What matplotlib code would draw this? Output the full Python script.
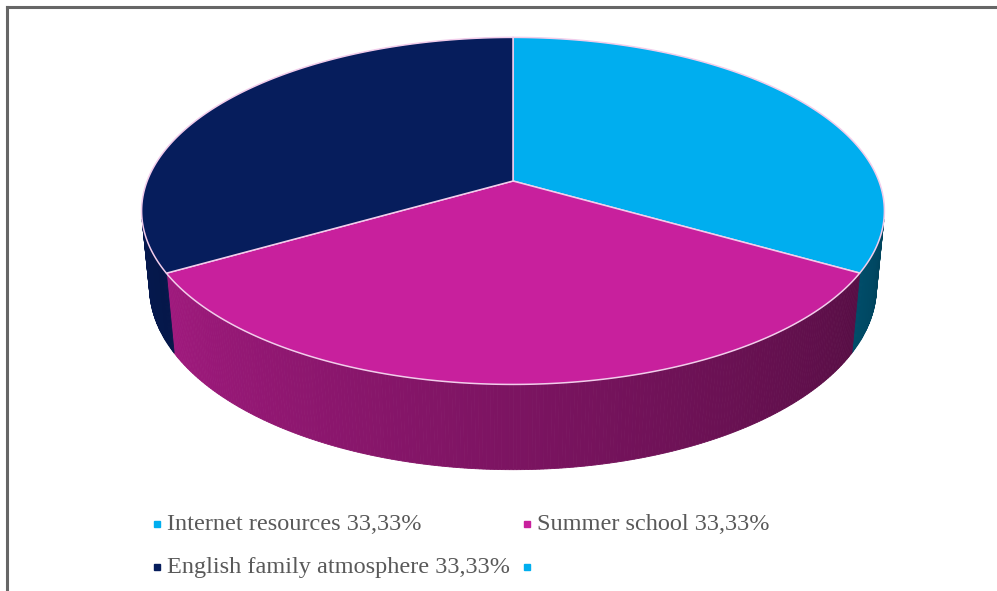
"""
3D pie: sources of English learning (three equal shares).
Drawn with a small perspective projection, since matplotlib has no 3D pie.
"""

import numpy as np
import matplotlib.pyplot as plt
from matplotlib.colors import to_rgb
from matplotlib.patches import Polygon

# ── Data ─────────────────────────────────────────────────────────────────────
labels = ["Internet resources", "Summer school", "English family atmosphere"]
shares = [33.33, 33.33, 33.34]
pct_labels = ["33,33%", "33,33%", "33,33%"]
top_colors = ["#00AEEF", "#C8209D", "#061D5C"]

# ── Projection parameters (fitted to the reference) ──────────────────────────
CX, CY = 513, 181          # screen position of the pie centre
FOCAL = 1884.0
DIST = 5.15
TILT = np.deg2rad(27.4)
THICK = 0.236


def project(t, y):
    """Point on the rim (angle t in degrees, height y) -> screen x, y."""
    t = np.deg2rad(t)
    x, z = np.cos(t), np.sin(t)
    c, s = np.cos(TILT), np.sin(TILT)
    yc = y * c + z * s
    depth = DIST + z * c - y * s
    return CX + FOCAL * x / depth, CY - FOCAL * yc / depth


def shade(hex_color, t):
    # lighter on the left of the front wall, darker toward the right
    k = 0.86 - 0.48 * (t - 190) / 160
    return np.clip(np.array(to_rgb(hex_color)) * k, 0, 1)


fig = plt.figure(figsize=(9.97, 5.91), dpi=100)
ax = fig.add_axes([0, 0, 1, 1])
ax.set_xlim(0, 997)
ax.set_ylim(591, 0)
ax.axis("off")

# slice angles: start at 12 o'clock, go clockwise
bounds = 90 - 360 * np.cumsum([0] + shares) / sum(shares)

# visible outer wall: where the rim normal faces the camera
lim = np.rad2deg(np.arcsin(-1 / (DIST * np.cos(TILT))))
vis_lo, vis_hi = 180 - lim, 360 + lim

for i in range(len(shares)):
    a0, a1 = bounds[i + 1] % 360, bounds[i] % 360
    if a1 <= a0:
        a1 += 360
    for shift in (0, -360):
        lo = max(a0 + shift, vis_lo)
        hi = min(a1 + shift, vis_hi)
        if hi <= lo:
            continue
        ts = np.linspace(lo, hi, int((hi - lo) * 2) + 2)
        for ta, tb in zip(ts[:-1], ts[1:]):
            xa, ya = project(ta, 0)
            xb, yb = project(tb, 0)
            xc, yc = project(tb, -THICK)
            xd, yd = project(ta, -THICK)
            col = shade(top_colors[i], (ta + tb) / 2)
            ax.add_patch(Polygon([(xa, ya), (xb, yb), (xc, yc), (xd, yd)],
                                 closed=True, facecolor=col, edgecolor=col,
                                 lw=0.6, zorder=2))

# top faces
for i in range(len(shares)):
    ts = np.linspace(bounds[i], bounds[i + 1], 200)
    px, py = project(ts, 0)
    pts = [(CX, CY)] + list(zip(px, py))
    ax.add_patch(Polygon(pts, closed=True, facecolor=top_colors[i],
                         edgecolor="#F2CDEB", lw=1.1, zorder=3))

# frame lines on top and left
ax.plot([6.5, 997], [6.5, 6.5], color="#666666", lw=2.2, zorder=5)
ax.plot([6.5, 6.5], [6.5, 591], color="#666666", lw=2.2, zorder=5)

# legend
font = dict(family="Liberation Serif", fontsize=17.5, color="#595959",
            va="center", ha="left")
entries = [(157, 524, 0), (527, 524, 1), (157, 567, 2)]
for x, y, i in entries:
    ax.plot(x, y, marker="s", ms=4.5, color=top_colors[i], zorder=5)
    ax.text(x + 10, y, f"{labels[i]} {pct_labels[i]}", **font)
ax.plot(527, 567, marker="s", ms=4.5, color=top_colors[0], zorder=5)

fig.savefig("out.png", dpi=100)
